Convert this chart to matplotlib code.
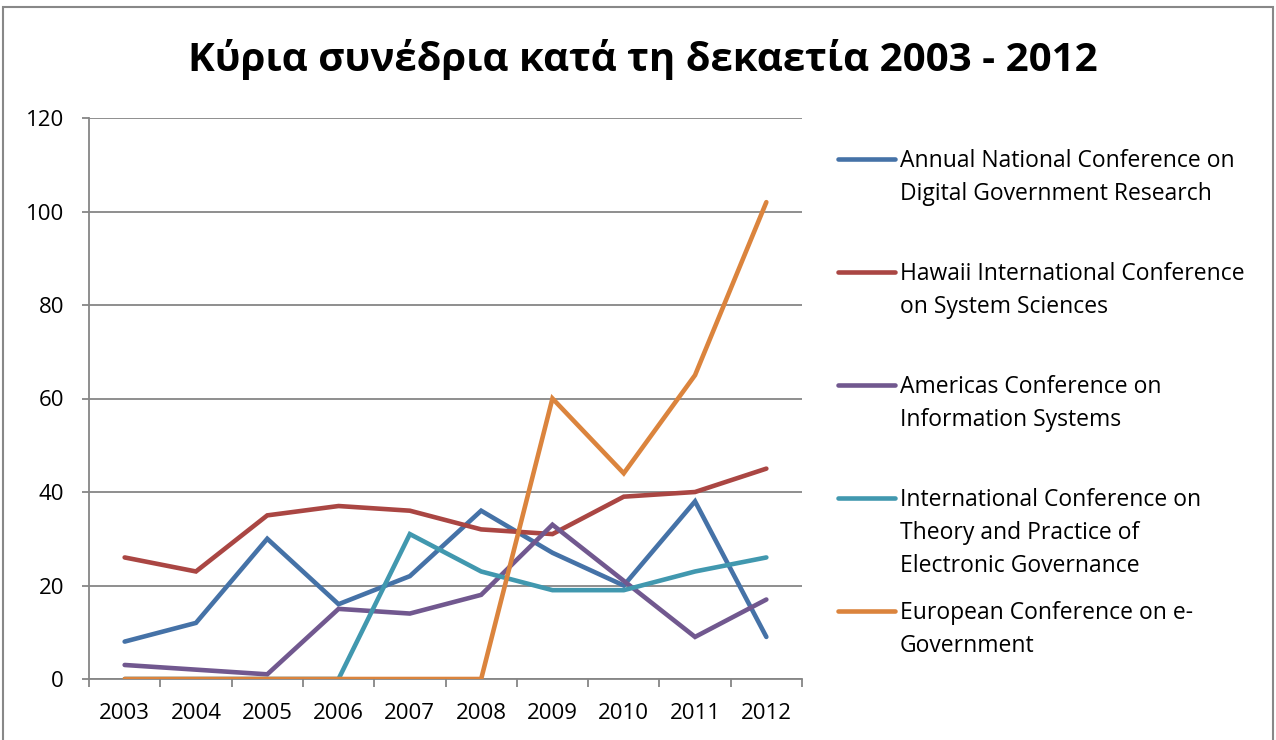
import numpy as np
import matplotlib.pyplot as plt
from matplotlib.lines import Line2D
from matplotlib.patches import Rectangle

plt.rcParams['font.family'] = ['Open Sans', 'DejaVu Sans']

years = ['2003', '2004', '2005', '2006', '2007', '2008', '2009', '2010', '2011', '2012']
series_names = [
    'Annual National Conference on\nDigital Government Research',
    'Hawaii International Conference\non System Sciences',
    'Americas Conference on\nInformation Systems',
    'International Conference on\nTheory and Practice of\nElectronic Governance',
    'European Conference on e-\nGovernment',
]
dgo = [8, 12, 30, 16, 22, 36, 27, 20, 38, 9]
hicss = [26, 23, 35, 37, 36, 32, 31, 39, 40, 45]
amcis = [3, 2, 1, 15, 14, 18, 33, 21, 9, 17]
icegov = [0, 0, 0, 0, 31, 23, 19, 19, 23, 26]
ecegov = [0, 0, 0, 0, 0, 0, 60, 44, 65, 102]
colors = ['#4572A7', '#AA4643', '#71588F', '#4198AF', '#DB843D']

W, H = 1276, 740
fig = plt.figure(figsize=(W / 100, H / 100), dpi=100)
ax = fig.add_axes([89 / W, 1 - 679 / H, (802 - 89) / W, (679 - 118) / H])

x = np.arange(len(years))
for vals, c in zip([dgo, hicss, amcis, icegov, ecegov], colors):
    ax.plot(x, vals, color=c, lw=3.3, solid_capstyle='round', solid_joinstyle='miter', zorder=3)

ax.set_xlim(-0.5, len(years) - 0.5)
ax.set_ylim(0, 120)
ax.set_yticks(np.arange(0, 121, 20))
ax.yaxis.grid(True, color='#868686', lw=1.3)
ax.set_axisbelow(True)
ax.set_xticks(x)
ax.set_xticklabels(years)
ax.set_xticks(np.arange(-0.5, len(years), 1), minor=True)
ax.tick_params(axis='x', which='major', length=0, pad=17, labelsize=16)
ax.tick_params(axis='x', which='minor', length=6, width=1.3, color='#868686', direction='out')
ax.tick_params(axis='y', length=5, width=1.3, color='#868686', pad=13, labelsize=16)
for s in ['top', 'right']:
    ax.spines[s].set_visible(False)
for s in ['left', 'bottom']:
    ax.spines[s].set_color('#868686')
    ax.spines[s].set_linewidth(1.3)

fig.text(643 / W, 1 - 60 / H, 'Κύρια συνέδρια κατά τη δεκαετία 2003 - 2012',
         ha='center', va='center', fontsize=29, fontweight='bold')

# legend drawn by hand so the lines sit on the first text line
for i, (name, c) in enumerate(zip(series_names, colors)):
    yy = 1 - (159 + 113 * i) / H
    fig.add_artist(Line2D([838 / W, 895 / W], [yy, yy], color=c, lw=3.3,
                          solid_capstyle='round', transform=fig.transFigure))
    fig.text(900 / W, yy + 10 / H, name, ha='left', va='top', fontsize=16.5,
             linespacing=1.5)

fig.add_artist(Rectangle((3 / W, -0.01), (W - 6) / W, 1.0, transform=fig.transFigure,
                         fill=False, edgecolor='#888888', lw=1.5))

fig.savefig('out.png', dpi=100)
